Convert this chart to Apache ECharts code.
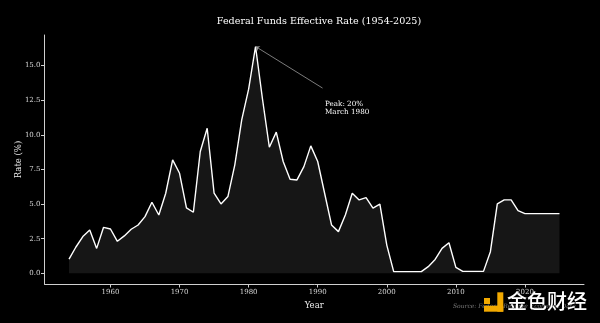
<!DOCTYPE html>
<html>
<head>
<meta charset="utf-8">
<script src="https://cdn.jsdelivr.net/npm/echarts@6/dist/echarts.min.js"></script>
<style>
html,body{margin:0;padding:0;background:#000;}
#c{width:600px;height:323px;}
</style>
</head>
<body>
<div id="c"></div>
<script>
// Annual average effective federal funds rate as plotted (1954-2025)
const years = [];
for (let y = 1954; y <= 2025; y++) years.push(y);
const rates = [
  1.03, 1.9, 2.65, 3.13, 1.8, 3.32, 3.2, 2.31, 2.7, 3.18,
  3.49, 4.09, 5.13, 4.21, 5.78, 8.19, 7.22, 4.72, 4.41, 8.79,
  10.47, 5.78, 5.01, 5.54, 7.83, 11.08, 13.29, 16.37, 12.6, 9.1,
  10.19, 8.07, 6.79, 6.74, 7.7, 9.2, 8.07, 5.78, 3.49, 3.01,
  4.21, 5.78, 5.3, 5.46, 4.7, 4.99, 2.04, 0.12, 0.12, 0.12,
  0.12, 0.12, 0.48, 1.0, 1.8, 2.21, 0.43, 0.14, 0.14, 0.14,
  0.14, 1.56, 5.01, 5.3, 5.3, 4.52, 4.31, 4.31, 4.31, 4.31,
  4.31, 4.31
];
const xTicks = [1960, 1970, 1980, 1990, 2000, 2010, 2020];
const yTicks = [0, 2.5, 5, 7.5, 10, 12.5, 15];
const peakYear = 1981, peakRate = 16.37;
const annoEnd = [1990.7, 13.37];

const serif = "'DejaVu Serif', serif";
const axisCol = '#cfcfcf';

const chart = echarts.init(document.getElementById('c'), null, {renderer: 'canvas'});
chart.setOption({
  backgroundColor: '#000',
  animation: false,
  title: {
    text: 'Federal Funds Effective Rate (1954-2025)',
    left: 314, top: 11, textAlign: 'center',
    textStyle: {color: '#fff', fontFamily: serif, fontSize: 9.6, fontWeight: 'normal'}
  },
  grid: {left: 44.5, right: 16, top: 35, bottom: 39, outerBoundsMode: 'none', containLabel: false},
  xAxis: {
    type: 'value', min: 1950.45, max: 2028.55,
    name: 'Year', nameLocation: 'middle', nameGap: 17,
    nameTextStyle: {color: '#e8e8e8', fontFamily: serif, fontSize: 8.5},
    axisLine: {show: true, onZero: false, lineStyle: {color: axisCol, width: 1}},
    axisTick: {show: true, customValues: xTicks, length: 3.5, lineStyle: {color: axisCol}},
    axisLabel: {customValues: xTicks, color: '#d8d8d8', fontFamily: serif, fontSize: 7, margin: 5,
      formatter: v => String(v)},
    splitLine: {show: false}
  },
  yAxis: {
    type: 'value', min: -0.77, max: 17.2,
    name: 'Rate (%)', nameLocation: 'middle', nameGap: 21.5, nameRotate: 90, nameMoveOverlap: false,
    nameTextStyle: {color: '#e8e8e8', fontFamily: serif, fontSize: 8.5},
    axisLine: {show: true, onZero: false, lineStyle: {color: axisCol, width: 1}},
    axisTick: {show: true, customValues: yTicks, length: 3.5, lineStyle: {color: axisCol}},
    axisLabel: {customValues: yTicks, color: '#d8d8d8', fontFamily: serif, fontSize: 7, margin: 4,
      formatter: v => v.toFixed(1)},
    splitLine: {show: false}
  },
  series: [{
    type: 'line',
    data: years.map((y, i) => [y, rates[i]]),
    showSymbol: false,
    lineStyle: {color: '#ffffff', width: 1.4},
    areaStyle: {color: 'rgba(255,255,255,0.12)', origin: 0},
    silent: true,
    markLine: {
      silent: true,
      symbol: ['none', 'arrow'],
      symbolSize: 4,
      label: {show: false},
      lineStyle: {color: '#9a9a9a', width: 0.8, type: 'solid'},
      data: [[{coord: annoEnd}, {coord: [peakYear, peakRate]}]]
    }
  }],
  graphic: [
    {type: 'text', left: 325, top: 100,
     style: {text: 'Peak: 20%\nMarch 1980', fill: '#fff', font: "7.2px 'DejaVu Serif'", lineHeight: 8}},
    {type: 'text', left: 453, top: 303,
     style: {text: 'Source: Federal Reserve Economic Data', fill: '#777', font: "italic 6px 'DejaVu Serif'"}},
    {type: 'rect', shape: {x: 484, y: 298, width: 6, height: 6}, style: {fill: '#f2a900'}},
    {type: 'rect', shape: {x: 497.3, y: 292.3, width: 6, height: 19.4}, style: {fill: '#f2a900'}},
    {type: 'rect', shape: {x: 484, y: 305.7, width: 19.3, height: 6}, style: {fill: '#f2a900'}},
    {type: 'text', left: 507, top: 291,
     style: {text: '金色财经', fill: '#ffffff', font: "500 20px 'Noto Sans CJK SC'"}}
  ]
});
</script>
</body>
</html>
